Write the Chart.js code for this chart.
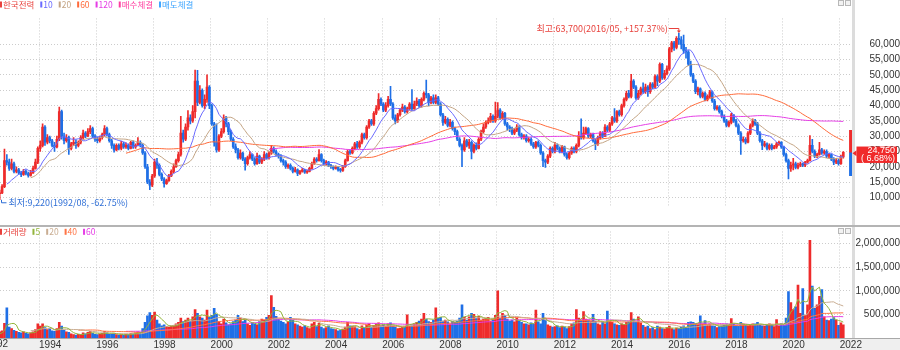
<!DOCTYPE html>
<html>
<head>
<meta charset="utf-8">
<script src="https://cdn.jsdelivr.net/npm/chart.js@4.4.1/dist/chart.umd.min.js"></script>
<style>
body { margin: 0; background: #fff; }
#wrap { position: relative; width: 900px; height: 350px; overflow: hidden; }
#pricebox { position: absolute; left: 0; top: 0; width: 900px; height: 225px; }
#sep { position: absolute; left: 0; top: 225px; width: 900px; height: 2px; background: #b4b4b4; }
#volbox { position: absolute; left: 0; top: 227px; width: 900px; height: 123px; }
</style>
</head>
<body>
<div id="wrap">
  <div id="pricebox"><canvas id="price"></canvas></div>
  <div id="sep"></div>
  <div id="volbox"><canvas id="volume"></canvas></div>
</div>
<script>
// monthly data, first entry is 1992/02 (Feb..Jul 1992 sit left of the visible window)
var firstMonth = 1;          // months counted from 1992/01
var firstOpen = 14200;

var closes = [
  13800, 13200, 12500, 12300, 11800, 11200, 11500, 13500, 22000, 21500, 19500,             // 1992
  21000, 18500, 19000, 18000, 17500, 18500, 17800, 17200, 18000, 19500, 21500, 26000,      // 1993
  27000, 33000, 28000, 29500, 28500, 27000, 26500, 29000, 38000, 30000, 28500, 29500,      // 1994
  26000, 27500, 28000, 27000, 28000, 29500, 31000, 30000, 31500, 32500, 30000, 29000,      // 1995
  28500, 29500, 30500, 32500, 30500, 28500, 27000, 25500, 27000, 26000, 27500, 26500,      // 1996
  27000, 26000, 28000, 26500, 27000, 28000, 27000, 24500, 20000, 15000, 14000, 17000,      // 1997
  21500, 20500, 17500, 16000, 14500, 15500, 17000, 18500, 20000, 22000, 24000, 31000,      // 1998
  29000, 33000, 36000, 35000, 38000, 48000, 41000, 45000, 40000, 42000, 46000, 40000,      // 1999
  34000, 28000, 25500, 30000, 31500, 36000, 34000, 31500, 29000, 26500, 25500, 23000,      // 2000
  24500, 22500, 21000, 23000, 24000, 22500, 21000, 23500, 21500, 22500, 24000, 23000,      // 2001
  24500, 26000, 25000, 24000, 23500, 22000, 21500, 20000, 20500, 19500, 18500, 19000,      // 2002
  17800, 18500, 19000, 18200, 18500, 19500, 21000, 22500, 22000, 24000, 22000, 21000,      // 2003
  21500, 20500, 20000, 19500, 19800, 19000, 18800, 20000, 22000, 25000, 24500, 26000,      // 2004
  27500, 26500, 28000, 30500, 29500, 33000, 35000, 34000, 37500, 39000, 42000, 40500,      // 2005
  38500, 40000, 42000, 40500, 36000, 35000, 37000, 38500, 39500, 38000, 39000, 40500,      // 2006
  39000, 40500, 41500, 40000, 42000, 44000, 43500, 41000, 42500, 41000, 42500, 40500,      // 2007
  37000, 34500, 35500, 33500, 34500, 32500, 31500, 29000, 27000, 25500, 28500, 27000,      // 2008
  28000, 25000, 27000, 26000, 29000, 31500, 33000, 34500, 35000, 36500, 35000, 36500,      // 2009
  38500, 36000, 37500, 34000, 33000, 32500, 31000, 32000, 33000, 30500, 29500, 30000,      // 2010
  28500, 29000, 27500, 26500, 28000, 27000, 24500, 22000, 21500, 23500, 26000, 25000,      // 2011
  27000, 26000, 25000, 26500, 24000, 23000, 24500, 26000, 25000, 27000, 30000, 29500,      // 2012
  31000, 32500, 30000, 30500, 28500, 27500, 29500, 31000, 30000, 33000, 32000, 34000,      // 2013
  36000, 35000, 38000, 37000, 40000, 42000, 44000, 43000, 48000, 46000, 42500, 44000,      // 2014
  45500, 44500, 46000, 44500, 47000, 46000, 49500, 48000, 53500, 49000, 50500, 52000,      // 2015
  58500, 60500, 59000, 62000, 61500, 60000, 58000, 57500, 53500, 50000, 48000, 44500,      // 2016
  45500, 43000, 44000, 42000, 43000, 44500, 41500, 39000, 39500, 38000, 36500, 35000,      // 2017
  33500, 34500, 37000, 35000, 33500, 31000, 28500, 29000, 28000, 31000, 33500, 35000,      // 2018
  34000, 31000, 28500, 27000, 27500, 26000, 27000, 26000, 26500, 27500, 28000, 26500,      // 2019
  24000, 22000, 19500, 20500, 21000, 19800, 20500, 21000, 20500, 21500, 22000, 27000,      // 2020
  25000, 23500, 24000, 25500, 24500, 25000, 23500, 24000, 22500, 21500, 22000, 21000,      // 2021
  23200, 24750                                                                             // 2022
];

var highs = [
  14600, 14100, 13500, 12900, 12600, 12000, 12400, 14200, 25800, 24000, 22500,
  22500, 21500, 20000, 19500, 18500, 19200, 19000, 18300, 18800, 20200, 22500, 26500,
  28500, 34000, 33500, 30500, 30000, 29000, 28000, 30000, 39500, 38500, 31000, 30500,
  30000, 28000, 29500, 28800, 28500, 30200, 32000, 31500, 32500, 33500, 33000, 30500,
  29800, 30000, 31000, 33500, 33000, 31000, 29000, 27500, 27500, 27500, 28300, 28000,
  27800, 27500, 28300, 28500, 27500, 29500, 28500, 27500, 25000, 20800, 15800, 17500,
  22500, 22800, 21000, 18000, 16500, 16000, 17500, 19000, 21000, 22500, 24800, 36500,
  32000, 34000, 38400, 37000, 40000, 51600, 51500, 46500, 45500, 43500, 50000, 46500,
  40500, 34500, 34000, 30500, 32500, 37000, 36500, 34500, 32000, 29500, 27500, 26000,
  25500, 24800, 23000, 23500, 25000, 24200, 23000, 24500, 23800, 23000, 25000, 24500,
  25000, 27000, 26500, 25500, 24500, 24000, 22500, 22000, 21000, 21000, 20000, 19800,
  19300, 18800, 19500, 19200, 18900, 19800, 21500, 23000, 23000, 25600, 24300, 22500,
  22000, 21800, 20800, 20300, 20300, 20000, 19500, 20500, 22500, 25500, 25500, 26500,
  28000, 28300, 28500, 31000, 31000, 33500, 35500, 35500, 38000, 40000, 43900, 42500,
  41000, 41000, 43000, 46300, 41000, 37000, 37500, 39000, 40500, 40000, 39500, 41000,
  45200, 41500, 42500, 42000, 42500, 44500, 48300, 44000, 43000, 43500, 43500, 43000,
  41000, 37500, 36500, 36000, 35500, 35000, 33000, 32000, 29500, 27500, 29500, 29000,
  29000, 28500, 27500, 27800, 29500, 32000, 34000, 35000, 36000, 37500, 37000, 41100,
  41000, 39000, 38000, 37800, 34500, 33500, 33000, 32500, 33800, 33500, 31000, 30500,
  30500, 29500, 29500, 28000, 28300, 28500, 27500, 25000, 22500, 24000, 26500, 26500,
  28000, 27500, 26500, 27000, 26800, 24500, 25000, 26500, 26500, 27500, 31500, 35700,
  33000, 33000, 32800, 31000, 31000, 29000, 30000, 31500, 31500, 33800, 33500, 34500,
  36500, 39000, 38400, 38500, 40500, 42500, 44700, 45000, 50200, 48500, 46500, 45000,
  46000, 47400, 47000, 46500, 47500, 47500, 50000, 50000, 54000, 53800, 51500, 53000,
  59000, 61000, 61000, 62500, 63700, 62500, 63000, 59000, 58000, 54500, 50500, 48500,
  46000, 45800, 44500, 44500, 43500, 45000, 44800, 42000, 40000, 40000, 38500, 37000,
  35500, 35000, 37500, 37000, 35500, 34000, 31500, 29800, 29500, 31500, 34000, 35700,
  35500, 34500, 31500, 29000, 28300, 27800, 27500, 27500, 27000, 28000, 28400, 28200,
  26800, 24500, 22500, 21500, 22800, 21500, 21200, 21500, 21200, 21800, 22500, 30200,
  29000, 25500, 24500, 28000, 26000, 25500, 25500, 24500, 24200, 23000, 22800, 22500,
  23800, 25000
];

var lows = [
  13400, 12900, 12200, 11900, 11300, 10800, 9220, 11200, 13200, 20500, 18800,
  19000, 18000, 18000, 17500, 16800, 17200, 17300, 16600, 16900, 17800, 19200, 21000,
  25000, 26500, 27000, 27500, 27800, 26500, 25000, 26200, 28500, 29000, 27500, 28000,
  24000, 25500, 27000, 26000, 26500, 27500, 29000, 29500, 29800, 30800, 29500, 28300,
  27800, 28000, 29000, 30000, 30000, 28000, 26000, 24800, 25200, 25500, 25500, 26000,
  26000, 25500, 25800, 26000, 26000, 26800, 26500, 24000, 19500, 14500, 12500, 13500,
  16500, 19500, 17000, 15500, 13300, 14200, 15200, 16800, 18000, 19800, 21500, 23500,
  28000, 28500, 32000, 34000, 34500, 36000, 40000, 40500, 39500, 39000, 41000, 39000,
  33500, 26700, 24800, 25000, 29500, 31000, 33000, 30500, 28500, 26000, 24500, 22500,
  22500, 22000, 18900, 20500, 22500, 22000, 20500, 20800, 21000, 21000, 22000, 22500,
  22500, 24000, 24500, 23500, 22800, 21500, 20500, 19500, 19500, 19000, 18000, 18200,
  17100, 17500, 18200, 17800, 17800, 18300, 19200, 20800, 21500, 21800, 21500, 20500,
  20500, 20000, 19500, 19000, 19200, 18600, 18200, 18500, 19800, 21800, 24000, 24200,
  25500, 26000, 26000, 27500, 29000, 29000, 32500, 33500, 33500, 37000, 38500, 40000,
  38000, 38000, 39500, 40000, 35500, 34000, 34500, 36500, 38000, 37500, 37500, 38500,
  38500, 38500, 40000, 39500, 39500, 41500, 42500, 40000, 40500, 40500, 40500, 40000,
  36500, 33500, 34000, 33000, 33000, 32000, 30500, 28500, 26500, 20000, 25000, 26500,
  26000, 22600, 24500, 25500, 25800, 28500, 31000, 32500, 34000, 34500, 34500, 34500,
  36000, 35500, 35500, 33500, 32000, 31500, 30500, 30500, 31500, 30000, 29000, 29000,
  28000, 28000, 27000, 26000, 26000, 26500, 24000, 20000, 19800, 21000, 23000, 24500,
  24500, 25500, 24500, 24500, 23500, 22500, 22500, 24000, 24500, 24500, 26500, 29000,
  29000, 30500, 29500, 29500, 28000, 25600, 27000, 29000, 29500, 29800, 31500, 31500,
  33500, 34500, 34500, 36500, 36500, 39500, 41500, 42500, 42500, 45500, 42000, 42000,
  43500, 44000, 44000, 43000, 44000, 45500, 45800, 46500, 47500, 48500, 48500, 50000,
  51500, 57500, 58000, 58500, 60000, 58500, 57000, 55500, 53000, 49500, 47500, 43900,
  43500, 42500, 42500, 41500, 41500, 42500, 41000, 38500, 38500, 37500, 36000, 34500,
  33000, 33000, 34000, 34500, 33000, 30500, 24000, 28000, 27500, 27800, 30500, 33000,
  33500, 30500, 28000, 25600, 26500, 25500, 25500, 25500, 25800, 26000, 27000, 26000,
  23500, 21500, 16000, 18500, 19000, 19300, 19300, 20000, 20000, 20000, 21200, 21800,
  24500, 23000, 23000, 23800, 24000, 24000, 23000, 23000, 22000, 20700, 21000, 20500,
  20800, 22800
];

var volumes = [
  80000, 60000, 70000, 50000, 90000, 120000, 130000, 150000, 310000, 640000, 230000,
  200000, 160000, 140000, 120000, 110000, 130000, 100000, 90000, 110000, 130000, 180000, 300000,
  250000, 300000, 220000, 180000, 200000, 150000, 140000, 200000, 330000, 250000, 160000, 130000,
  120000, 90000, 70000, 60000, 80000, 70000, 110000, 90000, 120000, 140000, 100000, 80000,
  70000, 80000, 100000, 140000, 110000, 80000, 90000, 100000, 70000, 60000, 70000, 60000,
  80000, 70000, 100000, 90000, 110000, 130000, 120000, 200000, 330000, 470000, 540000, 480000,
  550000, 380000, 300000, 260000, 280000, 240000, 230000, 250000, 260000, 300000, 330000, 420000,
  350000, 380000, 420000, 360000, 450000, 600000, 520000, 450000, 420000, 380000, 590000, 440000,
  480000, 630000, 500000, 350000, 300000, 400000, 320000, 280000, 300000, 350000, 380000, 480000,
  420000, 350000, 380000, 300000, 270000, 320000, 300000, 280000, 350000, 400000, 380000, 440000,
  480000, 900000, 650000, 460000, 400000, 360000, 330000, 300000, 350000, 440000, 380000, 300000,
  280000, 250000, 230000, 260000, 220000, 200000, 300000, 330000, 240000, 310000, 230000, 200000,
  220000, 260000, 200000, 190000, 180000, 150000, 170000, 190000, 230000, 330000, 260000, 250000,
  240000, 200000, 180000, 260000, 210000, 280000, 300000, 230000, 270000, 300000, 320000, 260000,
  280000, 250000, 300000, 320000, 260000, 230000, 200000, 210000, 230000, 240000, 490000, 250000,
  260000, 300000, 330000, 360000, 400000, 520000, 400000, 350000, 330000, 380000, 640000, 420000,
  440000, 360000, 380000, 340000, 300000, 350000, 330000, 360000, 420000, 700000, 440000, 380000,
  450000, 520000, 500000, 420000, 460000, 380000, 400000, 420000, 440000, 360000, 400000, 480000,
  1000000, 420000, 520000, 480000, 400000, 360000, 380000, 340000, 420000, 360000, 330000, 300000,
  300000, 280000, 320000, 300000, 590000, 340000, 300000, 520000, 380000, 280000, 250000, 230000,
  240000, 260000, 220000, 250000, 230000, 200000, 240000, 300000, 320000, 600000, 420000, 380000,
  560000, 400000, 380000, 350000, 500000, 360000, 300000, 280000, 330000, 300000, 570000, 350000,
  330000, 300000, 280000, 270000, 300000, 280000, 330000, 350000, 540000, 400000, 330000, 450000,
  320000, 270000, 230000, 250000, 200000, 220000, 180000, 250000, 230000, 200000, 190000, 220000,
  250000, 200000, 180000, 210000, 200000, 230000, 260000, 220000, 330000, 340000, 330000, 300000,
  280000, 470000, 300000, 370000, 280000, 300000, 260000, 250000, 220000, 240000, 260000, 280000,
  300000, 280000, 410000, 300000, 260000, 250000, 330000, 300000, 270000, 260000, 280000, 300000,
  300000, 330000, 280000, 260000, 250000, 270000, 300000, 280000, 240000, 390000, 260000, 300000,
  280000, 420000, 985000, 750000, 600000, 660000, 1120000, 520000, 1045000, 480000, 700000, 2070000,
  1100000, 630000, 700000, 880000, 1025000, 450000, 380000, 370000, 400000, 430000, 380000, 270000,
  320000, 280000
];

// buy / sell execution bar at the right edge
var tradeMonth = 364.2;
var buyRange = [24750, 31900];
var sellRange = [17100, 24750];

var yearTicks = [1994, 1996, 1998, 2000, 2002, 2004, 2006, 2008, 2010, 2012, 2014, 2016, 2018, 2020, 2022];
var priceTicks = [10000, 15000, 20000, 25000, 30000, 35000, 40000, 45000, 50000, 55000, 60000];
var volumeTicks = [500000, 1000000, 1500000, 2000000];
var priceMaLengths = [10, 20, 60, 120];
var volumeMaLengths = [5, 20, 40, 60];

var priceLegend = ['한국전력', '10', '20', '60', '120', '매수체결', '매도체결'];
var volumeLegend = ['거래량', '5', '20', '40', '60'];
var highNote = '최고:63,700(2016/05, +157.37%)';
var lowNote = '최저:9,220(1992/08, -62.75%)';
var lastLabel = ['24,750', '( 6.68%)'];

var red = '#ee2b2b', blue = '#1f6fe6';
var priceMaColors = ['#6a6aff', '#c4a585', '#ff6a3a', '#e53de5'];
var volumeMaColors = ['#93b53c', '#c9ad92', '#ff7445', '#e53de5'];
var priceLegendColors = ['#e8413c', '#6a6aff', '#c4a585', '#ff6a3a', '#e53de5', '#ff3fa0', '#3fa6ff'];
var volumeLegendColors = ['#e8413c', '#93b53c', '#c9ad92', '#ff7445', '#e53de5'];

var numFont = "'Liberation Sans Narrow', 'Liberation Sans', Arial, sans-serif";
var textFont = "'Liberation Sans Narrow', 'Noto Sans CJK KR', sans-serif";
var xMin = 7.126, xMax = 364.66;

var monthX = [], opens = [];
for (var i = 0; i < closes.length; i++) {
  monthX.push(firstMonth + i);
  opens.push(i === 0 ? firstOpen : closes[i - 1]);
}
var candleColor = closes.map(function (c, i) { return c >= opens[i] ? red : blue; });

function movingAverage(values, len) {
  var out = [];
  for (var i = len - 1; i < values.length; i++) {
    var s = 0;
    for (var k = i - len + 1; k <= i; k++) s += values[k];
    out.push({ x: monthX[i], y: s / len });
  }
  return out;
}

function fmt(v) { return Number(v).toLocaleString('en-US'); }

function labelPadding(values, size) {
  var c = document.createElement('canvas').getContext('2d');
  c.font = size + 'px ' + numFont;
  var w = 0;
  values.forEach(function (v) { w = Math.max(w, c.measureText(fmt(v)).width); });
  return 43 - w;
}

function yearGrid(scale) {
  scale.ticks = yearTicks.map(function (y) { return { value: (y - 1992) * 12 - 0.5 }; });
}

function drawLegend(ctx, labels, colors, y) {
  ctx.font = '8.5px ' + textFont;
  ctx.textBaseline = 'middle';
  ctx.textAlign = 'left';
  var x = 0;
  labels.forEach(function (t, i) {
    ctx.fillStyle = colors[i];
    ctx.fillRect(x, y - 3, 2, 6);
    ctx.fillText(t, x + 3, y);
    x += 3 + ctx.measureText(t).width + 6;
  });
}

function drawButtons(ctx, y) {
  ctx.fillStyle = '#f2f2f2';
  ctx.strokeStyle = '#b8b8b8';
  ctx.lineWidth = 1;
  [838.5, 845.5].forEach(function (x) {
    ctx.fillRect(x, y, 5, 5);
    ctx.strokeRect(x, y, 5, 5);
  });
}

var priceDecor = {
  id: 'priceDecor',
  afterDraw: function (chart) {
    var ctx = chart.ctx, xs = chart.scales.x, ys = chart.scales.y, area = chart.chartArea;
    ctx.save();
    ctx.fillStyle = '#dcdcdc';
    ctx.fillRect(area.right, 0, 3, chart.height);
    drawLegend(ctx, priceLegend, priceLegendColors, 4.5);
    drawButtons(ctx, 0.5);

    // highest point note
    var hi = highs.indexOf(Math.max.apply(null, highs));
    var xh = xs.getPixelForValue(monthX[hi]), yh = ys.getPixelForValue(highs[hi]);
    ctx.strokeStyle = '#e8413c';
    ctx.fillStyle = '#e8413c';
    ctx.lineWidth = 1;
    ctx.beginPath();
    ctx.moveTo(xh - 10, yh - 4.5);
    ctx.lineTo(xh, yh - 4.5);
    ctx.lineTo(xh, yh - 1);
    ctx.stroke();
    ctx.beginPath();
    ctx.moveTo(xh - 2, yh - 2.5); ctx.lineTo(xh + 2, yh - 2.5); ctx.lineTo(xh, yh);
    ctx.fill();
    ctx.font = '9px ' + textFont;
    ctx.textAlign = 'right';
    ctx.textBaseline = 'middle';
    ctx.fillText(highNote, xh - 11, yh - 4.5);

    // lowest point note
    var lo = lows.indexOf(Math.min.apply(null, lows));
    var xl = Math.max(1.5, xs.getPixelForValue(monthX[lo])), yl = ys.getPixelForValue(lows[lo]);
    ctx.strokeStyle = '#2f6fd6';
    ctx.fillStyle = '#2f6fd6';
    ctx.beginPath();
    ctx.moveTo(xl, yl);
    ctx.lineTo(xl, yl + 3);
    ctx.lineTo(xl + 5, yl + 3);
    ctx.stroke();
    ctx.textAlign = 'left';
    ctx.fillText(lowNote, xl + 7, yl + 2.5);

    // current price tag
    var yc = ys.getPixelForValue(closes[closes.length - 1]);
    ctx.fillStyle = '#f02a2a';
    ctx.beginPath();
    ctx.moveTo(area.right + 0.5, yc + 1);
    ctx.lineTo(area.right + 4.5, yc - 2);
    ctx.lineTo(area.right + 4.5, yc + 4);
    ctx.fill();
    ctx.fillRect(area.right + 4.5, yc - 5.7, 40.5, 16.4);
    ctx.fillStyle = '#fff';
    ctx.font = '9px ' + numFont;
    ctx.textAlign = 'right';
    ctx.fillText(lastLabel[0], 895, yc - 1.5);
    ctx.fillText(lastLabel[1], 895, yc + 6.2);
    ctx.restore();
  }
};

var volumeDecor = {
  id: 'volumeDecor',
  beforeDraw: function (chart) {
    var ctx = chart.ctx, area = chart.chartArea;
    ctx.save();
    ctx.fillStyle = '#efefef';
    ctx.fillRect(0, area.bottom, chart.width, chart.height - area.bottom);
    ctx.fillStyle = '#a8a8a8';
    ctx.fillRect(0, area.bottom, chart.width, 1);
    ctx.restore();
  },
  afterDraw: function (chart) {
    var ctx = chart.ctx, area = chart.chartArea;
    ctx.save();
    ctx.fillStyle = '#dcdcdc';
    ctx.fillRect(area.right, 0, 3, area.bottom);
    drawLegend(ctx, volumeLegend, volumeLegendColors, 4.8);
    drawButtons(ctx, 1.5);
    ctx.fillStyle = '#333';
    ctx.font = '10px ' + numFont;
    ctx.textAlign = 'right';
    ctx.textBaseline = 'top';
    ctx.fillText('1992', 8, area.bottom + 1);
    ctx.restore();
  }
};

function lineSet(data, color, order) {
  return { type: 'line', data: data, borderColor: color, borderWidth: 1, pointRadius: 0, tension: 0, order: order };
}

var priceSets = [];
priceMaLengths.forEach(function (len, k) {
  priceSets.push(lineSet(movingAverage(closes, len), priceMaColors[k], 0));
});
priceSets.push({
  type: 'bar', grouped: false, order: 2, barThickness: 2, minBarLength: 1,
  data: monthX.map(function (x, i) { return { x: x, y: [opens[i], closes[i]] }; }),
  backgroundColor: candleColor
});
priceSets.push({
  type: 'bar', grouped: false, order: 3, barThickness: 1,
  data: monthX.map(function (x, i) { return { x: x, y: [lows[i], highs[i]] }; }),
  backgroundColor: candleColor
});
priceSets.push({ type: 'bar', grouped: false, order: 2, barThickness: 3, data: [{ x: tradeMonth, y: buyRange }], backgroundColor: red });
priceSets.push({ type: 'bar', grouped: false, order: 2, barThickness: 3, data: [{ x: tradeMonth, y: sellRange }], backgroundColor: blue });

var volumeSets = [];
volumeMaLengths.forEach(function (len, k) {
  volumeSets.push(lineSet(movingAverage(volumes, len), volumeMaColors[k], 0));
});
volumeSets.push({
  type: 'bar', grouped: false, order: 2, barThickness: 2,
  data: monthX.map(function (x, i) { return { x: x, y: volumes[i] }; }),
  backgroundColor: candleColor
});

var gridStyle = { color: '#cccccc', drawTicks: false, offset: false };
var borderStyle = { display: false, dash: [1, 2] };

new Chart(document.getElementById('price'), {
  type: 'bar',
  data: { datasets: priceSets },
  options: {
    responsive: true, maintainAspectRatio: false, animation: false, events: [],
    layout: { padding: 0 },
    plugins: { legend: { display: false }, tooltip: { enabled: false } },
    scales: {
      x: {
        type: 'linear', min: xMin, max: xMax, offset: false,
        grid: gridStyle, border: borderStyle, ticks: { display: false },
        afterBuildTicks: yearGrid,
        afterFit: function (s) { s.height = 0; }
      },
      y: {
        position: 'right', min: 6995, max: 68470,
        grid: gridStyle, border: borderStyle,
        ticks: { color: '#333', font: { family: numFont, size: 10 }, crossAlign: 'far',
                 padding: labelPadding(priceTicks, 10), callback: fmt },
        afterBuildTicks: function (s) { s.ticks = priceTicks.map(function (v) { return { value: v }; }); },
        afterFit: function (s) { s.width = 48; }
      }
    }
  },
  plugins: [priceDecor]
});

new Chart(document.getElementById('volume'), {
  type: 'bar',
  data: { datasets: volumeSets },
  options: {
    responsive: true, maintainAspectRatio: false, animation: false, events: [],
    layout: { padding: { top: 1 } },
    plugins: { legend: { display: false }, tooltip: { enabled: false } },
    scales: {
      x: {
        type: 'linear', min: xMin, max: xMax, offset: false,
        grid: gridStyle, border: borderStyle,
        ticks: { color: '#333', font: { family: numFont, size: 10 }, align: 'start', padding: 1,
                 maxRotation: 0, autoSkip: false,
                 callback: function (v) { return String(Math.round((v + 0.5) / 12) + 1992); } },
        afterBuildTicks: yearGrid,
        afterFit: function (s) { s.height = 12; }
      },
      y: {
        position: 'right', min: 0, max: 2254000,
        grid: gridStyle, border: borderStyle,
        ticks: { color: '#333', font: { family: numFont, size: 10 }, crossAlign: 'far',
                 padding: labelPadding(volumeTicks, 10), callback: fmt },
        afterBuildTicks: function (s) { s.ticks = volumeTicks.map(function (v) { return { value: v }; }); },
        afterFit: function (s) { s.width = 48; }
      }
    }
  },
  plugins: [volumeDecor]
});
</script>
</body>
</html>
